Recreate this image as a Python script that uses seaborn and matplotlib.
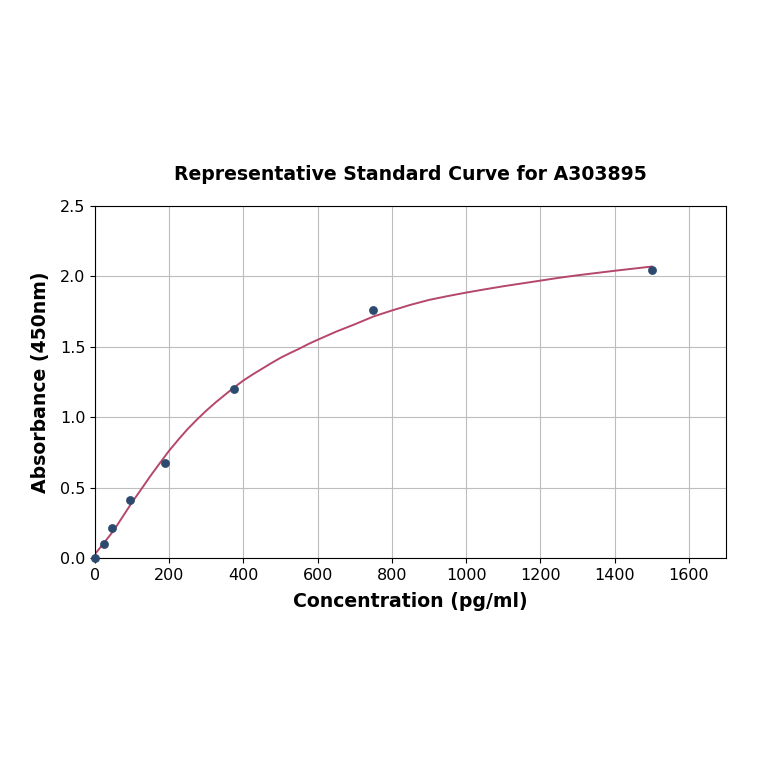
import matplotlib
matplotlib.use('Agg')
import matplotlib.pyplot as plt
import seaborn as sns
import pandas as pd

# 표준 농도 및 흡광도
conc = [0, 23.4, 46.9, 93.75, 187.5, 375, 750, 1500]
absorb = [0.0, 0.10, 0.213, 0.415, 0.675, 1.197, 1.76, 2.045]

# 피팅 곡선
curve_x = [0, 25, 50, 75, 100, 125, 150, 175, 200, 225, 250, 275, 300, 325,
           350, 375, 400, 425, 450, 475, 500, 525, 550, 575, 600, 650, 700,
           750, 800, 850, 900, 950, 1000, 1050, 1100, 1150, 1200, 1250, 1300,
           1350, 1400, 1450, 1500]
curve_y = [0.028, 0.11, 0.194, 0.295, 0.396, 0.49, 0.585, 0.675, 0.763,
           0.842, 0.917, 0.984, 1.047, 1.105, 1.159, 1.212, 1.261, 1.304,
           1.344, 1.384, 1.422, 1.455, 1.486, 1.52, 1.55, 1.608, 1.66, 1.715,
           1.758, 1.798, 1.833, 1.86, 1.885, 1.908, 1.93, 1.95, 1.97, 1.99,
           2.008, 2.024, 2.04, 2.055, 2.07]

df_pts = pd.DataFrame({'conc': conc, 'abs': absorb})
df_fit = pd.DataFrame({'conc': curve_x, 'abs': curve_y})

fig, ax = plt.subplots(figsize=(7.64, 7.64), dpi=100)
fig.subplots_adjust(left=95/764, right=726/764, top=1-206/764, bottom=1-558/764)

sns.lineplot(data=df_fit, x='conc', y='abs', color='#b5476b', linewidth=1.4, ax=ax)
sns.scatterplot(data=df_pts, x='conc', y='abs', color='#2c4a6e', s=34,
                edgecolor='#2c4a6e', zorder=3, ax=ax, clip_on=False)

ax.set_xlim(0, 1700)
ax.set_ylim(0, 2.5)
ax.set_xticks(range(0, 1601, 200))
ax.set_yticks([0.0, 0.5, 1.0, 1.5, 2.0, 2.5])
ax.set_yticklabels(['0.0', '0.5', '1.0', '1.5', '2.0', '2.5'])
ax.grid(True, color='#bdbdbd', linewidth=0.8)
ax.set_axisbelow(True)
ax.tick_params(labelsize=11.5)

ax.set_title('Representative Standard Curve for A303895', fontsize=13.6, fontweight='bold', pad=19)
ax.set_xlabel('Concentration (pg/ml)', fontsize=13.6, fontweight='bold', labelpad=7)
ax.set_ylabel('Absorbance (450nm)', fontsize=13.6, fontweight='bold', labelpad=7)

plt.savefig('out.png', dpi=100)
